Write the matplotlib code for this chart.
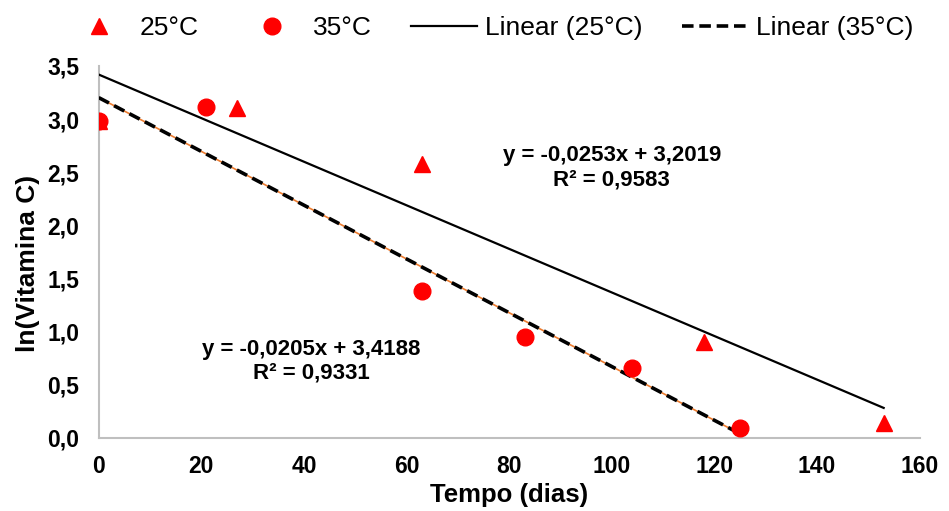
import numpy as np
import matplotlib
matplotlib.use("Agg")
import matplotlib.pyplot as plt
from matplotlib.ticker import FuncFormatter

plt.rcParams['font.family'] = ['Liberation Sans', 'DejaVu Sans']

# ln(vitamina C) ao longo do armazenamento
dias_25 = [0, 27, 63, 118, 153]
lnvc_25 = [2.98, 3.10, 2.58, 0.90, 0.14]
dias_35 = [0, 21, 63, 83, 104, 125]
lnvc_35 = [2.98, 3.11, 1.38, 0.95, 0.66, 0.09]

# coeficientes das retas de tendência (inclinação, intercepto, R²)
fit_25 = (-0.0205, 3.4188, 0.9331)
fit_35 = (-0.0253, 3.2019, 0.9583)

x_ticks = [0, 20, 40, 60, 80, 100, 120, 140, 160]
y_ticks = [0.0, 0.5, 1.0, 1.5, 2.0, 2.5, 3.0, 3.5]


def virgula(v, pos):
    return f"{v:.1f}".replace(".", ",")


def eq_texto(a, b, r2):
    s = f"y = {a:.4f}x + {b:.4f}\nR² = {r2:.4f}"
    return s.replace(".", ",")


fig = plt.figure(figsize=(9.49, 5.11), dpi=100)
ax = fig.add_axes([0.104, 0.143, 0.865, 0.728])

ax.plot(dias_25, lnvc_25, linestyle='none', marker='^', color='red',
        markersize=11, label='25°C', zorder=4)
ax.plot(dias_35, lnvc_35, linestyle='none', marker='o', color='red',
        markersize=12, label='35°C', zorder=4)

xr25 = np.array([0, max(dias_25)])
ax.plot(xr25, fit_25[0] * xr25 + fit_25[1], color='black', lw=1.6,
        label='Linear (25°C)', zorder=3)

xr35 = np.array([0, max(dias_35)])
yr35 = fit_35[0] * xr35 + fit_35[1]
ax.plot(xr35, yr35, color='#ed7d31', lw=1.2, zorder=2)
ax.plot(xr35, yr35, color='black', lw=2.6, linestyle=(0, (3.2, 1.6)),
        label='Linear (35°C)', zorder=3)

ax.text(100, 2.54, eq_texto(*fit_35), ha='center', va='center',
        fontsize=16, fontweight='bold', linespacing=1.2)
ax.text(41.5, 0.72, eq_texto(*fit_25), ha='center', va='center',
        fontsize=16, fontweight='bold', linespacing=1.2)

ax.set_xlim(0, 160)
ax.set_ylim(0, 3.5)
ax.set_xticks(x_ticks)
ax.set_yticks(y_ticks)
ax.yaxis.set_major_formatter(FuncFormatter(virgula))
ax.tick_params(length=0, labelsize=16.5)
ax.tick_params(axis='x', pad=12)
ax.tick_params(axis='y', pad=14)
for lab in ax.get_xticklabels() + ax.get_yticklabels():
    lab.set_fontweight('bold')

for side in ['top', 'right']:
    ax.spines[side].set_visible(False)
for side in ['left', 'bottom']:
    ax.spines[side].set_color('#bfbfbf')
    ax.spines[side].set_linewidth(1.5)

ax.set_xlabel('Tempo (dias)', fontsize=18.5, fontweight='bold')
ax.set_ylabel('ln(Vitamina C)', fontsize=19, fontweight='bold')
ax.xaxis.set_label_coords(0.5, -0.122)
ax.yaxis.set_label_coords(-0.072, 0.469)

fig.legend(loc='center', bbox_to_anchor=(0.516, 0.945), ncol=4,
           frameon=False, fontsize=19, handlelength=2.5, handletextpad=0.3,
           columnspacing=1.5)

fig.savefig('out.png', dpi=100)
